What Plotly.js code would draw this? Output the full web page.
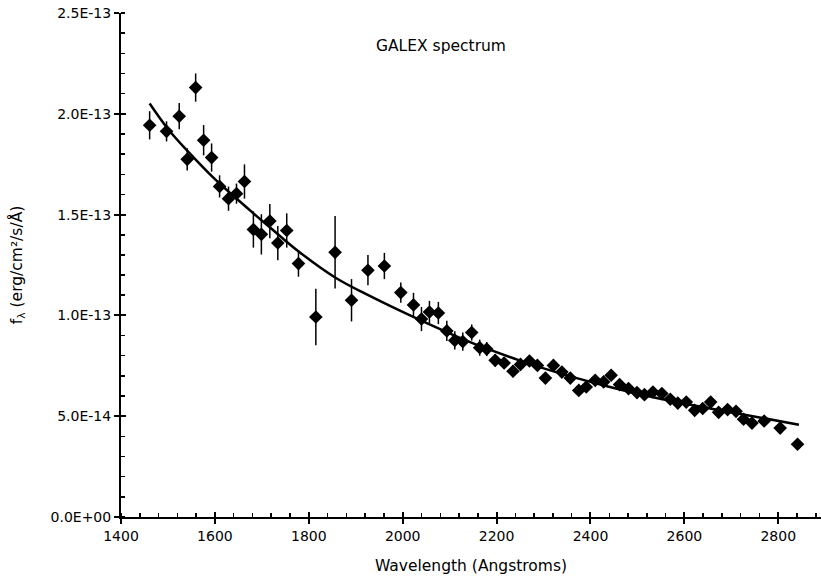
<!DOCTYPE html>
<html>
<head>
<meta charset="utf-8">
<script src="https://cdn.plot.ly/plotly-3.0.1.min.js"></script>
<style>html,body{margin:0;padding:0;background:#fff;}#chart{width:821px;height:580px;}</style>
</head>
<body>
<div id="chart"></div>
<script>
// Wavelength (Angstroms)
const wavelength = [1461,1497,1524,1541,1559,1576,1593,1610,1629,1646,1663,1682,1699,1717,1734,1753,1778,1815,1856,1891,1926,1961,1996,2023,2040,2057,2076,2094,2111,2128,2147,2164,2179,2197,2216,2235,2251,2270,2287,2304,2321,2339,2357,2375,2391,2410,2428,2444,2462,2481,2499,2515,2533,2552,2570,2586,2604,2622,2639,2656,2673,2692,2710,2726,2744,2770,2804,2841];
// Flux in units of 1E-13 erg/cm2/s/A
const flux = [1.943,1.913,1.988,1.774,2.130,1.869,1.783,1.640,1.579,1.604,1.664,1.426,1.402,1.468,1.359,1.421,1.257,0.992,1.313,1.075,1.224,1.245,1.113,1.052,0.982,1.017,1.012,0.923,0.876,0.870,0.915,0.840,0.833,0.777,0.764,0.723,0.757,0.774,0.752,0.689,0.752,0.719,0.689,0.628,0.645,0.678,0.670,0.703,0.657,0.637,0.617,0.607,0.620,0.612,0.584,0.565,0.570,0.529,0.538,0.570,0.519,0.533,0.524,0.485,0.466,0.476,0.441,0.361];
// Flux error (same units)
const fluxErr = [0.070,0.050,0.065,0.055,0.070,0.075,0.070,0.055,0.060,0.050,0.085,0.090,0.100,0.085,0.085,0.085,0.065,0.140,0.180,0.105,0.075,0.065,0.050,0.060,0.060,0.055,0.055,0.050,0.045,0.045,0.040,0.040,0.035,0.030,0.030,0.030,0.030,0.028,0.028,0.028,0.026,0.026,0.025,0.025,0.025,0.024,0.024,0.024,0.023,0.023,0.022,0.022,0.022,0.022,0.021,0.021,0.021,0.020,0.020,0.020,0.020,0.020,0.020,0.020,0.020,0.020,0.020,0.020];
// Fitted curve
const fitWavelength = [1461,1500,1542,1600,1655,1720,1779,1857,1932,2010,2096,2167,2250,2330,2423,2510,2594,2680,2760,2844];
const fitFlux = [2.051,1.925,1.815,1.676,1.561,1.431,1.316,1.187,1.094,1.006,0.915,0.846,0.776,0.716,0.656,0.606,0.565,0.527,0.494,0.458];
// Axis ticks
const yTickVals = [0,0.5,1.0,1.5,2.0,2.5];
const yTickText = ["0.0E+00","5.0E-14","1.0E-13","1.5E-13","2.0E-13","2.5E-13"];
const xTickVals = [1400,1600,1800,2000,2200,2400,2600,2800];

const FONT = "DejaVu Sans, Verdana, sans-serif";
const xRange = [1400, 2891];
const yRange = [0, 2.5];

const traces = [
  {
    x: fitWavelength, y: fitFlux, type: 'scatter', mode: 'lines',
    line: {color: '#000', width: 2.5, shape: 'spline', smoothing: 1},
    hoverinfo: 'skip', xaxis: 'x2', yaxis: 'y2'
  },
  {
    x: wavelength, y: flux, type: 'scatter', mode: 'markers',
    marker: {symbol: 'diamond', size: 10.5, color: '#000'},
    error_y: {type: 'data', array: fluxErr, visible: true, color: '#000', thickness: 1.5, width: 0}
  }
];

const layout = {
  width: 821, height: 580,
  margin: {l: 121, r: 0, t: 13, b: 63},
  paper_bgcolor: '#fff', plot_bgcolor: '#fff',
  showlegend: false,
  font: {family: FONT, size: 14, color: '#000'},
  xaxis: {
    range: xRange, showgrid: false, zeroline: false,
    showline: true, linecolor: '#000', linewidth: 2,
    tickmode: 'array', tickvals: xTickVals,
    ticks: 'outside', ticklen: 5, tickwidth: 2, tickcolor: '#000',
    minor: {dtick: 40, tick0: 1400, ticks: 'inside', ticklen: 4, tickwidth: 1.5, tickcolor: '#000', showgrid: false},
    tickfont: {family: FONT, size: 14, color: '#000'},
    title: {text: 'Wavelength (Angstroms)', font: {family: FONT, size: 15.5, color: '#000'}, standoff: 17}
  },
  yaxis: {
    range: yRange, showgrid: false, zeroline: false,
    showline: true, linecolor: '#000', linewidth: 2,
    tickmode: 'array', tickvals: yTickVals, ticktext: yTickText,
    ticks: 'outside', ticklen: 5, tickwidth: 2, tickcolor: '#000',
    minor: {dtick: 0.1, tick0: 0, ticks: 'inside', ticklen: 4, tickwidth: 1.5, tickcolor: '#000', showgrid: false},
    tickfont: {family: FONT, size: 14, color: '#000'},
    title: {text: 'f<sub>λ</sub> (erg/cm²/s/Å)', font: {family: FONT, size: 15.5, color: '#000'}, standoff: 24}
  },
  xaxis2: {
    range: xRange, overlaying: 'x', anchor: 'y2', side: 'bottom',
    showgrid: false, zeroline: false, showline: false, showticklabels: false,
    tickmode: 'array', tickvals: xTickVals,
    ticks: 'inside', ticklen: 5, tickwidth: 2, tickcolor: '#000'
  },
  yaxis2: {
    range: yRange, overlaying: 'y', anchor: 'x2', side: 'left',
    showgrid: false, zeroline: false, showline: false, showticklabels: false,
    tickmode: 'array', tickvals: yTickVals,
    ticks: 'inside', ticklen: 5, tickwidth: 2, tickcolor: '#000'
  },
  annotations: [{
    text: 'GALEX spectrum', xref: 'paper', yref: 'paper', x: 0.457, y: 0.935,
    xanchor: 'center', yanchor: 'middle', showarrow: false,
    font: {family: FONT, size: 15.5, color: '#000'}
  }]
};

Plotly.newPlot('chart', traces, layout, {displayModeBar: false, staticPlot: true});
</script>
</body>
</html>
